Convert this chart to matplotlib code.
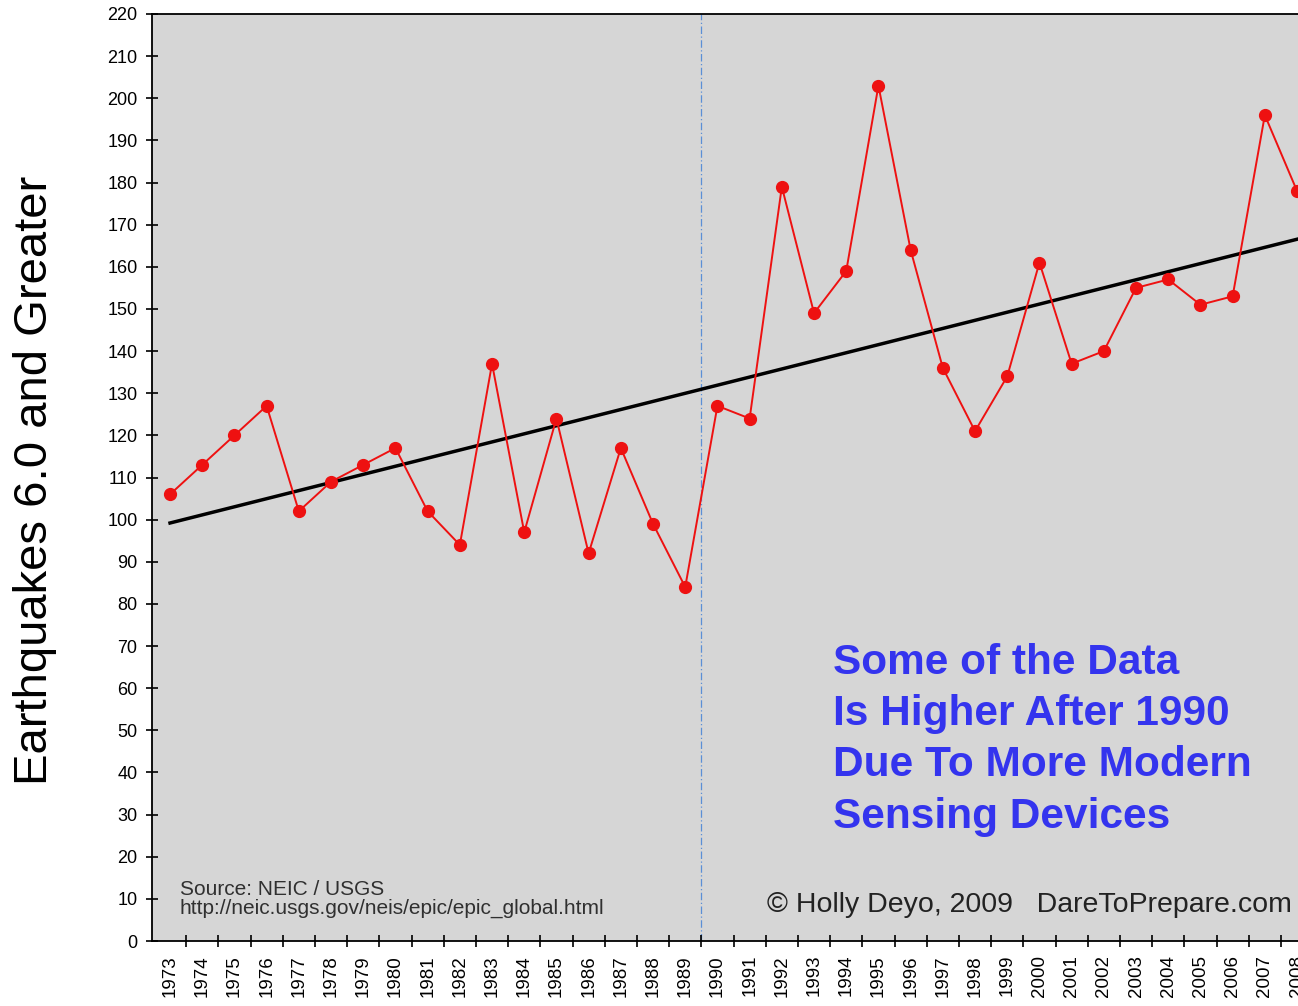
import matplotlib.pyplot as plt
import numpy as np

years = list(range(1973, 2009))
quakes = [106, 113, 120, 127, 102, 109, 113, 117, 102, 94, 137, 97, 124, 92, 117, 99, 84,
          127, 124, 179, 149, 159, 203, 164, 136, 121, 134, 161, 137, 140, 155, 157, 151, 153,
          196, 178]
trend_years = [1973, 2008.03]
trend_values = [99.2, 166.6]
divider_year = 1989.5

plt.rcParams['font.family'] = ['Liberation Sans', 'DejaVu Sans']

fig = plt.figure(figsize=(12.98, 10.06), dpi=100)
ax = fig.add_axes([152 / 1298, 65 / 1006, 1 - 152 / 1298, (941 - 14) / 1006])
ax.set_facecolor('#d6d6d6')

ax.plot(years, quakes, color='#ee1111', lw=1.4, marker='o', ms=8.5, zorder=3)
ax.plot(trend_years, trend_values, color='black', lw=2.5, zorder=2)
ax.axvline(divider_year, color='#5b8fd6', lw=0.9, ls=(0, (6, 2, 1, 2)), zorder=1)

ax.set_xlim(1972.44, 2008.03)
ax.set_ylim(0, 220)
ax.set_yticks(range(0, 221, 10))
ax.set_xticks(np.arange(1973.5, 2008, 1))
ax.set_xticklabels([])
ax.set_xticks(years, minor=True)
ax.set_xticklabels([str(y) for y in years], minor=True, rotation=90)
ax.tick_params(axis='x', which='major', direction='inout', length=9, width=1.2)
ax.tick_params(axis='x', which='minor', length=0, pad=10, labelsize=13.5)
ax.tick_params(axis='y', direction='inout', length=9, width=1.2, labelsize=13, pad=6)
ax.spines['right'].set_visible(False)
for s in ['left', 'bottom', 'top']:
    ax.spines[s].set_linewidth(1.3)

fig.text(35 / 1298, 1 - 480 / 1006, 'Earthquakes 6.0 and Greater', fontsize=34,
         rotation=90, ha='center', va='center')

ax.text(1973.3, 9.9, 'Source: NEIC / USGS\nhttp://neic.usgs.gov/neis/epic/epic_global.html',
        fontsize=15, color='#303030', va='center', linespacing=1.0)
ax.text(1991.55, 8.5, '\u00a9 Holly Deyo, 2009   DareToPrepare.com', fontsize=20.5,
        color='#222222', va='center')
ax.text(1993.6, 70.7, 'Some of the Data\nIs Higher After 1990\nDue To More Modern\nSensing Devices',
        fontsize=30.5, fontweight='bold', color='#3434ee', va='top', linespacing=1.36)

fig.savefig('out.png', dpi=100)
